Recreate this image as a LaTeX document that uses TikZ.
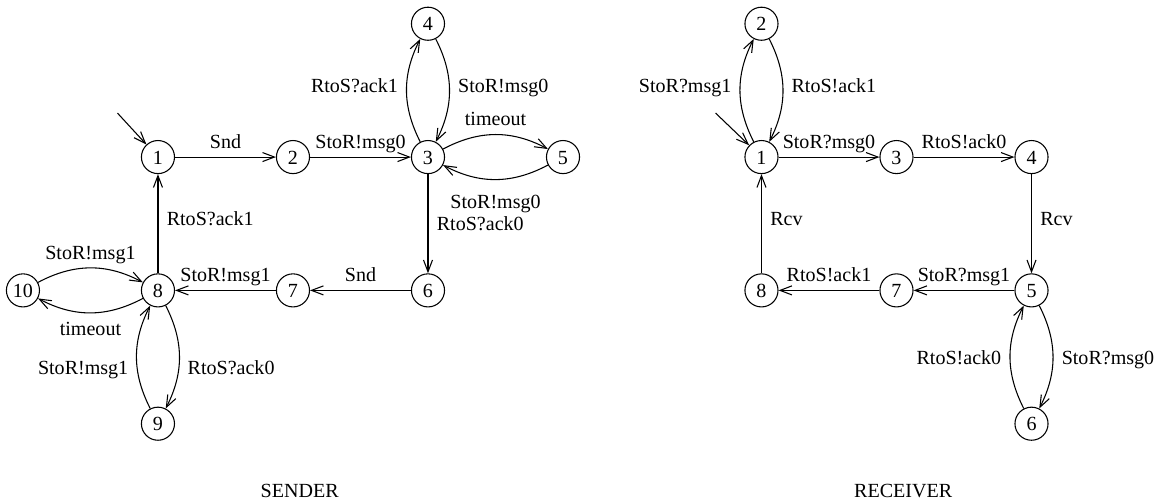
\documentclass[tikz,border=0pt]{standalone}
\usepackage{fontspec}
\setmainfont{Liberation Serif}
\usetikzlibrary{arrows.meta}

\begin{document}
\begin{tikzpicture}
  [
    x = 2cm, y = 1.975cm, line width = 0.45pt,
    >= {Straight Barb[length = 5pt, width = 3.8pt]},
    every node/.style = {font = \fontsize{8.45}{10}\selectfont, text height = 6pt, text depth = 0pt, inner sep = 3.5pt},
    state/.style = {draw, circle, minimum size = 0.49cm, inner sep = 0pt}
  ]
    \useasboundingbox (-1.17,1.178) rectangle (7.481,-2.588);
    % sender
    \node (s1) [state] at (0,0) {1};
    \node (s2) [state] at (1,0) {2};
    \node (s3) [state] at (2,0) {3};
    \node (s4) [state] at (2,1) {4};
    \node (s5) [state] at (3,0) {5};
    \node (s6) [state] at (2,-1) {6};
    \node (s7) [state] at (1,-1) {7};
    \node (s8) [state] at (0,-1) {8};
    \node (s9) [state] at (0,-2) {9};
    \node (s10) [state] at (-1,-1) {10};
    \coordinate (s0) at (-0.3,0.33);
    \draw [->] (s0) -- (s1);
    \draw [->] (s1) -- (s2) node [midway, above] {Snd};
    \draw [->] (s2) -- (s3) node [midway, above] {StoR!msg0};
    \draw [->] (s3) to [bend left = 27] node [pos = 0.55, left] {RtoS?ack1} (s4);
    \draw [->] (s4) to [bend left = 27] node [pos = 0.45, right] {StoR!msg0} (s3);
    \draw [->] (s3) to [bend left = 28] node [above] {timeout} (s5);
    \draw [->] (s5) to [bend left = 28] node [below = 2.5pt] {StoR!msg0} (s3);
    \draw [->] (s3) -- (s6) node [midway, right] {RtoS?ack0};
    \draw [->] (s6) -- (s7) node [midway, above] {Snd};
    \draw [->] (s7) -- (s8) node [midway, above] {StoR!msg1};
    \draw [->] (s8) -- (s1) node [pos = 0.55, right] {RtoS?ack1};
    \draw [->] (s10) to [bend left = 28] node [above] {StoR!msg1} (s8);
    \draw [->] (s8) to [bend left = 28] node [below] {timeout} (s10);
    \draw [->] (s8) to [bend left = 27] node [pos = 0.6, right] {RtoS?ack0} (s9);
    \draw [->] (s9) to [bend left = 27] node [pos = 0.4, left] {StoR!msg1} (s8);
    % receiver
    \node (r1) [state] at (4.47,0) {1};
    \node (r2) [state] at (4.47,1) {2};
    \node (r3) [state] at (5.47,0) {3};
    \node (r4) [state] at (6.47,0) {4};
    \node (r5) [state] at (6.47,-1) {5};
    \node (r6) [state] at (6.47,-2) {6};
    \node (r7) [state] at (5.47,-1) {7};
    \node (r8) [state] at (4.47,-1) {8};
    \coordinate (r0) at (4.13,0.33);
    \draw [->] (r0) -- (r1);
    \draw [->] (r1) to [bend left = 27] node [pos = 0.55, left] {StoR?msg1} (r2);
    \draw [->] (r2) to [bend left = 27] node [pos = 0.45, right] {RtoS!ack1} (r1);
    \draw [->] (r1) -- (r3) node [midway, above] {StoR?msg0};
    \draw [->] (r3) -- (r4) node [midway, above] {RtoS!ack0};
    \draw [->] (r4) -- (r5) node [pos = 0.45, right] {Rcv};
    \draw [->] (r5) -- (r7) node [midway, above] {StoR?msg1};
    \draw [->] (r7) -- (r8) node [midway, above] {RtoS!ack1};
    \draw [->] (r8) -- (r1) node [pos = 0.55, right] {Rcv};
    \draw [->] (r5) to [bend left = 27] node [right] {StoR?msg0} (r6);
    \draw [->] (r6) to [bend left = 27] node [left] {RtoS!ack0} (r5);
    % titles
    \node (snd) at (1.05,-2.5) {SENDER};
    \node (rcv) at (5.52,-2.5) {RECEIVER};
\end{tikzpicture}
\end{document}
